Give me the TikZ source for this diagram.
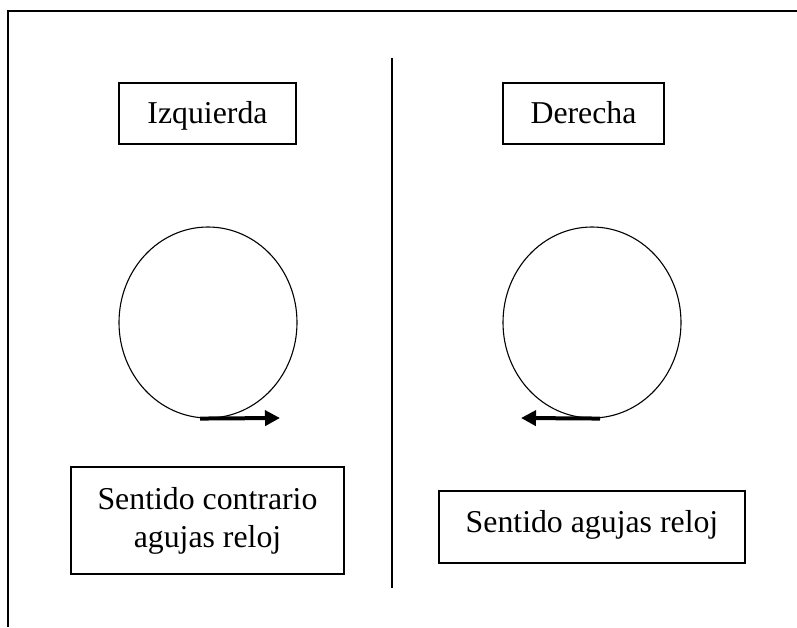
\documentclass[tikz,border=0pt]{standalone}
\usepackage{fontspec}
\setmainfont{Liberation Serif}
\usetikzlibrary{arrows.meta, positioning, shapes.geometric}

\begin{document}
\begin{tikzpicture}[x=1pt, y=-1pt,
    caja/.style={draw, line width=1.7pt, inner sep=0pt, align=center,
                 font=\fontsize{31.8pt}{38pt}\selectfont},
    titulo/.style={caja, text height=25pt, text depth=6pt},
    rueda/.style={draw, ellipse, line width=1.1pt, inner sep=0pt,
                  minimum width=178pt, minimum height=191pt},
    flecha/.style={-{Triangle[length=15pt, width=15pt]}, line width=4pt}]
      \useasboundingbox (0,0) rectangle (797,627);
      % marco y separador
      \draw[line width=1.7pt] (8,627) -- (8,11) -- (797,11);
      \draw[line width=1.5pt] (392,58) -- (392,588);
      % lado izquierdo
      \node[titulo, minimum width=177pt, minimum height=61pt] (izq) at (207.5,113.5) {Izquierda};
      \node[rueda] (ruedaIzq) at (208,322.5) {};
      \coordinate (finIzq) at (280,418);
      \draw[flecha] ([xshift=-8pt]ruedaIzq.south) -- (finIzq);
      \node[caja, minimum width=273pt, minimum height=107pt] (textoIzq) at (207.5,520.5)
        {Sentido contrario\\agujas reloj};
      % lado derecho
      \node[titulo, minimum width=161pt, minimum height=61pt] (der) at (583.5,113.5) {Derecha};
      \node[rueda] (ruedaDer) at (592,322.5) {};
      \coordinate (finDer) at (521,418);
      \draw[flecha] ([xshift=8pt]ruedaDer.south) -- (finDer);
      \node[titulo, text depth=15pt, minimum width=306pt, minimum height=72pt] (textoDer) at (592,527)
        {Sentido agujas reloj};
    \end{tikzpicture}
\end{document}
